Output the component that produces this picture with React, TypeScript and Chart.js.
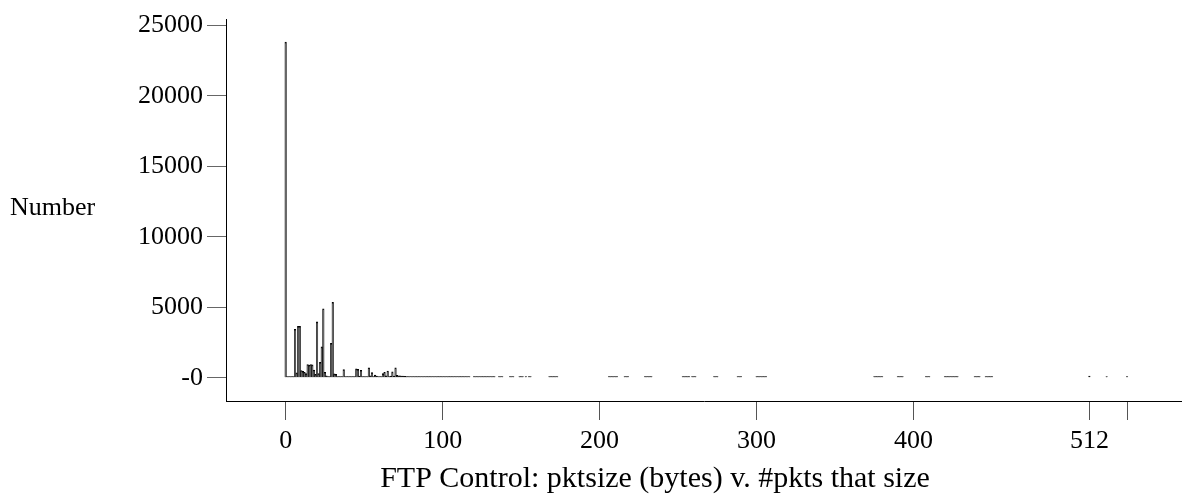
import React, { useEffect, useRef } from "react";
import { Chart, registerables } from "chart.js";

Chart.register(...registerables);

// ---- Data ----
const packetSizes: number[] = [
  0, 1, 2, 3, 4, 5, 6, 7, 8, 9, 10, 11, 12, 13, 14, 15, 16, 17, 18, 19,
  20, 21, 22, 23, 24, 25, 26, 27, 28, 29, 30, 31, 32, 33, 34, 35, 36, 37, 38, 39,
  40, 41, 42, 43, 44, 45, 46, 47, 48, 49, 50, 51, 52, 53, 54, 55, 56, 57, 58, 59,
  60, 61, 62, 63, 64, 65, 66, 67, 68, 69, 70, 71, 72, 73, 74, 75, 76, 77, 78, 79,
  80, 81, 82, 83, 84, 85, 86, 87, 88, 89, 90, 91, 92, 93, 94, 95, 96, 97, 98, 99,
  100, 101, 102, 103, 104, 105, 106, 107, 108, 109, 110, 111, 112, 113, 114, 115, 116, 117,
  120, 121, 122, 123, 124, 125, 126, 127, 128, 129, 130, 131, 132, 133,
  136, 137, 138, 143, 144, 145, 149, 150, 151, 153, 155, 156,
  168, 169, 170, 171, 172, 173,
  206, 207, 208, 209, 210, 211, 216, 217, 218, 229, 230, 231, 232, 233,
  253, 254, 255, 256, 257, 259, 260, 261, 273, 274, 275, 288, 289, 290,
  300, 301, 302, 303, 304, 305, 306,
  375, 376, 377, 378, 379, 380, 390, 391, 392, 393, 408, 409, 410,
  420, 421, 422, 423, 424, 425, 426, 427, 428, 439, 440, 441, 442,
  446, 447, 448, 449, 450, 512, 523, 536,
];

const packetCounts: number[] = [
  23800, 15, 10, 10, 12, 20, 3450, 350, 3650, 3650, 520, 460, 400, 300, 950, 900, 950, 920, 560, 250,
  3970, 300, 1100, 2200, 4900, 400, 150, 80, 100, 2450, 5350, 280, 250, 90, 70, 60, 80, 590, 70, 50,
  45, 40, 60, 70, 80, 640, 600, 120, 540, 100, 60, 50, 90, 720, 150, 380, 90, 190, 120, 40,
  30, 60, 300, 400, 150, 490, 100, 120, 420, 130, 720, 180, 150, 140, 130, 120, 110, 100, 90, 85,
  80, 70, 65, 60, 55, 50, 48, 46, 44, 42, 40, 38, 36, 35, 34, 32, 30, 30, 28, 27,
  26, 25, 24, 22, 21, 20, 18, 17, 16, 15, 14, 13, 12, 12, 11, 10, 10, 10,
  10, 10, 10, 10, 10, 10, 10, 10, 10, 10, 10, 10, 10, 10,
  10, 10, 10, 10, 10, 10, 10, 10, 10, 10, 10, 10,
  10, 10, 10, 10, 10, 10,
  10, 10, 10, 10, 10, 10, 10, 10, 10, 10, 10, 10, 10, 10,
  10, 10, 10, 10, 10, 10, 10, 10, 10, 10, 10, 10, 10, 10,
  10, 10, 10, 10, 10, 10, 10,
  10, 10, 10, 10, 10, 10, 10, 10, 10, 10, 10, 10, 10,
  10, 10, 10, 10, 10, 10, 10, 10, 10, 10, 10, 10, 10,
  10, 10, 10, 10, 10, 120, 10, 10,
];

const xTickValues: number[] = [0, 100, 200, 300, 400, 512, 536];
const xTickLabels: string[] = ["0", "100", "200", "300", "400", "512", ""];
const yTickValues: number[] = [0, 5000, 10000, 15000, 20000, 25000];
const yTickLabels: string[] = ["-0", "5000", "10000", "15000", "20000", "25000"];

const X_TITLE = "FTP Control: pktsize (bytes) v. #pkts that size";
const Y_TITLE = "Number";

const FONT_FAMILY = '"Liberation Serif", "Times New Roman", serif';
const FONT_SIZE = 26;
const X_TITLE_SIZE = 30;

export default function App() {
  const canvasRef = useRef<HTMLCanvasElement | null>(null);

  useEffect(() => {
    const canvas = canvasRef.current;
    if (!canvas) return;

    const titlesPlugin = {
      id: "freeTitles",
      afterDraw(chart: any) {
        const ctx = chart.ctx as CanvasRenderingContext2D;
        ctx.save();
        ctx.fillStyle = "#000";
        ctx.textBaseline = "alphabetic";
        ctx.font = `${FONT_SIZE}px ${FONT_FAMILY}`;
        ctx.textAlign = "left";
        ctx.fillText(Y_TITLE, 10, 215);
        ctx.font = `${X_TITLE_SIZE}px ${FONT_FAMILY}`;
        ctx.textAlign = "center";
        ctx.fillText(X_TITLE, 655, 487);
        ctx.restore();
      },
    };

    const chart = new Chart(canvas, {
      type: "bar",
      data: {
        datasets: [
          {
            data: packetSizes.map((s, i) => ({ x: s, y: packetCounts[i] })),
            backgroundColor: "#444",
            borderColor: "#000",
            borderWidth: 1,
            barPercentage: 1,
            categoryPercentage: 1,
            minBarLength: 1.2,
          },
        ],
      },
      options: {
        responsive: false,
        animation: false,
        layout: { padding: { top: 17, right: 0, bottom: 0, left: 0 } },
        plugins: {
          legend: { display: false },
          tooltip: { enabled: false },
          title: { display: false },
        },
        scales: {
          x: {
            type: "linear",
            min: -38,
            max: 571,
            offset: false,
            afterFit: (s: any) => {
              s.height = 93;
            },
            afterBuildTicks: (s: any) => {
              s.ticks = xTickValues.map((v) => ({ value: v }));
            },
            ticks: {
              autoSkip: false,
              maxRotation: 0,
              padding: 6,
              color: "#000",
              font: { family: FONT_FAMILY, size: FONT_SIZE },
              callback: (v: any) => xTickLabels[xTickValues.indexOf(Number(v))] ?? "",
            },
            grid: {
              offset: false,
              drawOnChartArea: false,
              drawTicks: true,
              tickLength: 19,
              tickColor: (ctx: any) =>
                ctx.index !== undefined && ctx.index < xTickValues.length ? "#555" : "rgba(0,0,0,0)",
              tickWidth: 1,
            },
            border: { display: true, color: "#000", width: 1, dash: [38, 2] },
          },
          y: {
            type: "linear",
            min: -1640,
            max: 25400,
            afterFit: (s: any) => {
              s.width = 226;
            },
            afterBuildTicks: (s: any) => {
              s.ticks = yTickValues.map((v) => ({ value: v }));
            },
            ticks: {
              padding: 4,
              color: "#000",
              font: { family: FONT_FAMILY, size: FONT_SIZE },
              callback: (v: any) => yTickLabels[yTickValues.indexOf(Number(v))] ?? "",
            },
            grid: {
              offset: false,
              drawOnChartArea: false,
              drawTicks: true,
              tickLength: 19,
              tickColor: "#666",
              tickWidth: 1,
            },
            border: { display: true, color: "#000", width: 1 },
          },
        },
      },
      plugins: [titlesPlugin],
    } as any);

    return () => chart.destroy();
  }, []);

  return (
    <div style={{ position: "absolute", left: 0, top: 0, width: 1182, height: 494, background: "#fff" }}>
      <canvas ref={canvasRef} width={1182} height={494} />
    </div>
  );
}
